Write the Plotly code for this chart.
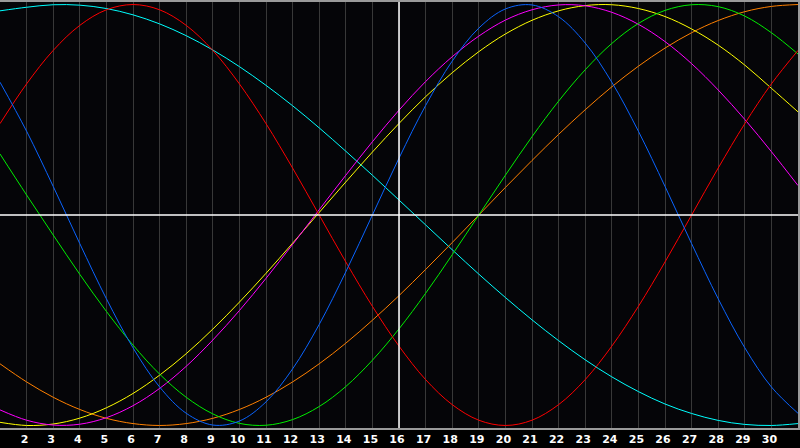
import plotly.graph_objects as go

days = list(range(1, 32))
tick_days = list(range(2, 31))
today = 16

physical = [0.631, 0.398, 0.136, -0.136, -0.398, -0.631, -0.817, -0.942, -0.998, -0.979,
            -0.888, -0.731, -0.520, -0.270, 0.0, 0.270, 0.520, 0.731, 0.888, 0.979,
            0.998, 0.942, 0.817, 0.631, 0.398, 0.136, -0.136, -0.398, -0.631, -0.817, -0.942]
emotional = [0.434, 0.623, 0.782, 0.901, 0.975, 1.0, 0.975, 0.901, 0.782, 0.623,
             0.434, 0.223, 0.0, -0.223, -0.434, -0.623, -0.782, -0.901, -0.975, -1.0,
             -0.975, -0.901, -0.782, -0.623, -0.434, -0.223, 0.0, 0.223, 0.434, 0.623, 0.782]
intellectual = [0.290, 0.095, -0.095, -0.282, -0.458, -0.618, -0.756, -0.866, -0.945, -0.990,
                -0.999, -0.972, -0.910, -0.815, -0.690, -0.541, -0.372, -0.189, 0.0, 0.189,
                0.372, 0.541, 0.690, 0.815, 0.910, 0.972, 0.999, 0.990, 0.945, 0.866, 0.765]
awareness = [-0.707, -0.793, -0.866, -0.924, -0.966, -0.991, -1.0, -0.991, -0.966, -0.924,
             -0.866, -0.793, -0.707, -0.609, -0.5, -0.383, -0.259, -0.131, 0.0, 0.131,
             0.259, 0.383, 0.5, 0.609, 0.707, 0.793, 0.866, 0.924, 0.966, 0.991, 1.0]
intuitive = [-0.926, -0.975, -0.998, -0.994, -0.963, -0.906, -0.824, -0.719, -0.594, -0.454,
             -0.301, -0.140, 0.025, 0.189, 0.348, 0.498, 0.634, 0.752, 0.850, 0.926,
             0.975, 0.998, 0.994, 0.963, 0.906, 0.824, 0.719, 0.594, 0.454, 0.301, 0.140]
aesthetic = [-0.985, -1.0, -0.993, -0.965, -0.916, -0.848, -0.761, -0.659, -0.542, -0.414,
             -0.277, -0.134, 0.012, 0.157, 0.299, 0.435, 0.562, 0.676, 0.776, 0.860,
             0.925, 0.970, 0.995, 0.999, 0.981, 0.943, 0.884, 0.807, 0.712, 0.602, 0.490]
spiritual = [0.970, 0.987, 0.999, 0.997, 0.981, 0.951, 0.908, 0.852, 0.784, 0.705,
             0.616, 0.519, 0.414, 0.303, 0.189, 0.071, -0.047, -0.165, -0.281, -0.392,
             -0.498, -0.597, -0.688, -0.769, -0.839, -0.898, -0.943, -0.976, -0.995, -1.0, -0.991]

series = [
    ("Spiritual", spiritual, "#00ffff"),
    ("Awareness", awareness, "#ff8000"),
    ("Aesthetic", aesthetic, "#ffff00"),
    ("Intuitive", intuitive, "#ff00ff"),
    ("Intellectual", intellectual, "#00ee00"),
    ("Emotional", emotional, "#ff0000"),
    ("Physical", physical, "#0a64ff"),
]

fig = go.Figure()
for name, vals, col in series:
    fig.add_trace(go.Scatter(x=days, y=vals, mode="lines", name=name,
                             line=dict(color=col, width=1, shape="spline", smoothing=1.0),
                             hoverinfo="skip"))

fig.add_shape(type="line", xref="x", yref="paper", x0=today, x1=today, y0=0, y1=1,
              line=dict(color="#ffffff", width=1.5), layer="above")
fig.add_shape(type="line", xref="paper", yref="y", x0=0, x1=1, y0=0, y1=0,
              line=dict(color="#ffffff", width=1.5), layer="above")

fig.update_layout(
    width=800, height=448,
    margin=dict(l=0, r=0, t=0, b=20, pad=0),
    paper_bgcolor="#000000",
    plot_bgcolor="#050508",
    showlegend=False,
    xaxis=dict(range=[1, 31], tickmode="array", tickvals=tick_days,
               ticktext=["<b>%d</b>" % d for d in tick_days],
               showgrid=True, gridcolor="#383838", gridwidth=1,
               zeroline=False, showline=True, linecolor="#9a9a9a", linewidth=2,
               mirror=True, ticks="", ticklabelshift=-2,
               tickfont=dict(family="DejaVu Sans", size=11, color="#ffffff")),
    yaxis=dict(range=[-1.012, 1.012], showgrid=False, zeroline=False,
               showticklabels=False, showline=True, linecolor="#9a9a9a",
               linewidth=2, mirror=True, ticks=""),
)

fig.write_html("out.html",
               config={"displayModeBar": False, "staticPlot": True},
               post_script="document.body.style.margin='0';document.body.style.padding='0';document.body.style.background='#000';")
